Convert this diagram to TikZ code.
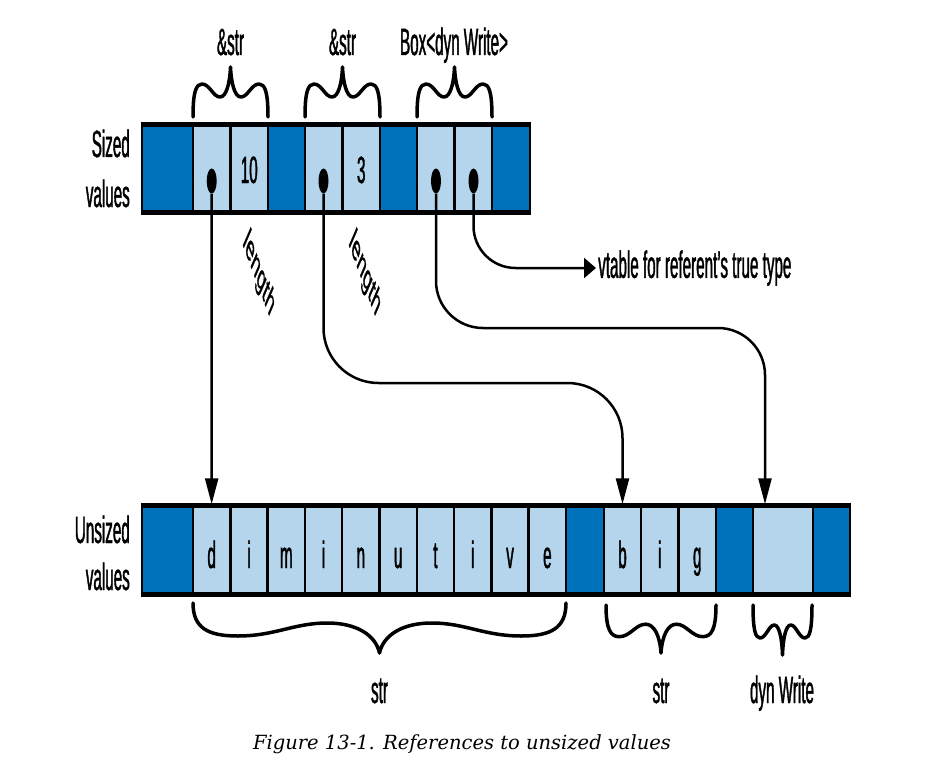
\documentclass[tikz,border=0pt]{standalone}
\usepackage{fontspec}
\setmainfont{Liberation Sans}[FakeStretch=0.40, FakeBold=1]
\newfontfamily\plainsans{Liberation Sans}[FakeBold=1]
\newfontfamily\capfont{DejaVu Serif}
\usetikzlibrary{arrows.meta,shapes.geometric,calc}

\definecolor{darkcell}{RGB}{0,114,188}
\definecolor{lightcell}{RGB}{180,213,235}

% a memory cell: name, left, right, top, bottom, style, text
\newcommand\cellbox[7]{%
  \node[#6, minimum width=#3-#2, minimum height=#5-#4] (#1) at ({(#2+#3)/2},{(#4+#5)/2}) {#7};}

% a curly brace: left, right, y of the ends, y of the tip
\newcommand\curlybrace[4]{%
  \pgfmathsetmacro\bw{#2-#1}\pgfmathsetmacro\bh{#4-#3}%
  \begin{scope}[shift={(#1,#3)}, xscale=\bw, yscale=\bh]
    \draw[bracestroke] (0,0) .. controls (0,0.5) and (0.04,0.66) .. (0.12,0.66)
      .. controls (0.22,0.66) and (0.27,0.40) .. (0.36,0.40)
      .. controls (0.44,0.40) and (0.49,0.65) .. (0.5,1)
      .. controls (0.51,0.65) and (0.56,0.40) .. (0.64,0.40)
      .. controls (0.73,0.40) and (0.78,0.66) .. (0.88,0.66)
      .. controls (0.96,0.66) and (1,0.5) .. (1,0);
  \end{scope}}

\begin{document}
\begin{tikzpicture}[x=1pt, y=-1pt,
  lbl/.style={font=\fontsize{38}{40}\selectfont, inner sep=0pt},
  dk/.style={draw=black, line width=2.5pt, fill=darkcell, inner sep=0pt},
  lt/.style={draw=black, line width=2.5pt, fill=lightcell, inner sep=0pt,
    font=\fontsize{38}{40}\selectfont},
  uptext/.style={text height=29pt, text depth=0pt},
  lowtext/.style={text height=36pt, text depth=0pt},
  rim/.style={line width=5pt, line cap=butt},
  dot/.style={ellipse, fill=black, inner sep=0pt, minimum width=10pt, minimum height=25pt},
  conn/.style={line width=2.5pt},
  downtip/.style={-{Triangle[length=26pt, width=13pt]}, shorten >=1.5pt},
  sidetip/.style={-{Triangle[length=12pt, width=20pt]}},
  bracestroke/.style={line width=3.5pt, line cap=round, line join=round}]

\fill[white] (0,0) rectangle (928,770);
\useasboundingbox (0,0) rectangle (928,770);

% ---- sized values ----
\node[lbl, anchor=base east] (sz1) at (130,157) {Sized};
\node[lbl, anchor=base east] (sz2) at (130,207) {values};

\cellbox{t0}{142}{193}{126}{211}{dk}{}
\cellbox{t1}{193}{230.5}{126}{211}{lt}{}
\cellbox{t2}{230.5}{268}{126}{211}{lt,uptext}{10}
\cellbox{t3}{268}{305}{126}{211}{dk}{}
\cellbox{t4}{305}{342.5}{126}{211}{lt}{}
\cellbox{t5}{342.5}{380}{126}{211}{lt,uptext}{3}
\cellbox{t6}{380}{417}{126}{211}{dk}{}
\cellbox{t7}{417}{454.5}{126}{211}{lt}{}
\cellbox{t8}{454.5}{492}{126}{211}{lt}{}
\cellbox{t9}{492}{530}{126}{211}{dk}{}
\draw[rim] (t0.north west) -- (t9.north east);
\draw[rim] (t0.south west) -- (t9.south east);

% ---- unsized values ----
\node[lbl, anchor=base east] (us1) at (130,543) {Unsized};
\node[lbl, anchor=base east] (us2) at (130,590) {values};

\cellbox{u0}{142}{193}{507}{593}{dk}{}
\foreach \ch [count=\k] in {d,i,m,i,n,u,t,i,v,e}{
  \pgfmathsetmacro\xa{193+(\k-1)*37.3}\pgfmathsetmacro\xb{193+\k*37.3}
  \cellbox{u\k}{\xa}{\xb}{507}{593}{lt,lowtext}{\ch}
}
\cellbox{u11}{566}{604}{507}{593}{dk}{}
\cellbox{u12}{604}{641}{507}{593}{lt,lowtext}{b}
\cellbox{u13}{641}{678.5}{507}{593}{lt,lowtext}{i}
\cellbox{u14}{678.5}{716}{507}{593}{lt,lowtext}{g}
\cellbox{u15}{716}{753}{507}{593}{dk}{}
\cellbox{u16}{753}{813}{507}{593}{lt}{}
\cellbox{u17}{813}{850}{507}{593}{dk}{}
\draw[rim] (u0.north west) -- (u17.north east);
\draw[rim] (u0.south west) -- (u17.south east);

% ---- pointers ----
\node[dot] (p1) at (211.7,181) {};
\node[dot] (p2) at (323.5,181) {};
\node[dot] (p3) at (436,181) {};
\node[dot] (p4) at (473.5,181) {};

\coordinate (r2) at (0,383);
\coordinate (r3) at (0,328);
\coordinate (w3) at ([xshift=-18pt]u16.north);

\node[lbl, anchor=west, inner sep=2pt] (vt) at (596,268) {vtable for referent’s true type};

\draw[conn, downtip] (p1) -- (u1.north);
\draw[conn, downtip, rounded corners=55pt] (p2) -- (p2 |- r2) -- (u12.north |- r2) -- (u12.north);
\draw[conn, downtip, rounded corners=47pt] (p3) -- (p3 |- r3) -- (w3 |- r3) -- (w3);
\draw[conn, sidetip, rounded corners=42pt] (p4) |- (vt.west);

% ---- length annotations (rotated, then narrowed like the font) ----
\begin{scope}[xscale=0.40]
  \node[transform shape, rotate=-47, inner sep=0pt,
        font=\plainsans\fontsize{37}{40}\selectfont] (len1) at (647,274) {length};
  \node[transform shape, rotate=-47, inner sep=0pt,
        font=\plainsans\fontsize{37}{40}\selectfont] (len2) at (912,274) {length};
\end{scope}

% ---- braces and type names ----
\curlybrace{193}{268}{117}{67}
\curlybrace{305}{380}{117}{67}
\curlybrace{417}{492}{117}{67}
\node[lbl, anchor=base] (ty1) at (230.5,55) {\&str};
\node[lbl, anchor=base] (ty2) at (342.5,55) {\&str};
\node[lbl, anchor=base] (ty3) at (454,55) {Box<dyn Write>};

\curlybrace{193}{566}{603}{653}
\curlybrace{606}{716}{605}{653}
\curlybrace{753}{812}{605}{655}
\node[lbl, anchor=base] (ty4) at (379.5,703) {str};
\node[lbl, anchor=base] (ty5) at (661,703) {str};
\node[lbl, anchor=base] (ty6) at (782,703) {dyn Write};

% ---- caption ----
\node[font=\capfont\itshape\fontsize{19.5}{22}\selectfont, anchor=base] (cap) at (462,749)
  {Figure 13-1. References to unsized values};
\end{tikzpicture}
\end{document}
